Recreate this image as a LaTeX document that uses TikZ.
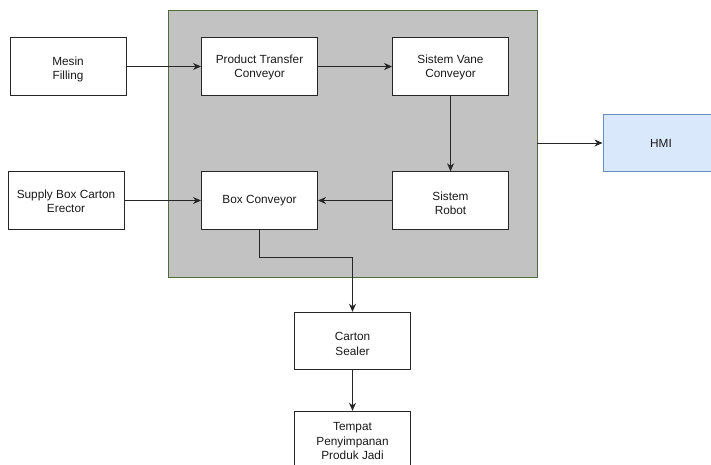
\documentclass[tikz,border=0pt]{standalone}
\usepackage{fontspec}
\setmainfont{Liberation Sans}
\usetikzlibrary{arrows.meta}
\definecolor{txt}{HTML}{1A1A1A}
\definecolor{edge}{HTML}{262626}
\definecolor{sysfill}{HTML}{C2C2C2}
\definecolor{sysline}{HTML}{4F6B3F}
\definecolor{hmifill}{HTML}{DAE8FC}
\definecolor{hmiline}{HTML}{6C8EBF}
\tikzset{
  blk/.style={draw=edge, line width=0.9pt, fill=white, rectangle,
    minimum width=116pt, minimum height=57.5pt, inner sep=2pt,
    align=center, text=txt, font=\fontsize{11.8}{14.3}\selectfont},
  twoline/.style={text height=25pt},
  lowtext/.style={text height=28.5pt},
  threeline/.style={text height=39pt},
  hmibox/.style={blk, draw=hmiline, fill=hmifill},
  arr/.style={draw=edge, line width=0.9pt, -{Stealth[length=8pt,width=7pt,inset=2.5pt]}},
}
\begin{document}
\begin{tikzpicture}[x=1pt, y=-1pt]
  \clip (0,0) rectangle (711,464);
  \fill[white] (0,0) rectangle (711,464);

  % packing system enclosure
  \node[draw=sysline, fill=sysfill, line width=0.9pt, rectangle,
        minimum width=369pt, minimum height=267pt, inner sep=0pt]
        (sys) at (352.5,143.5) {};

  % blocks
  \node[blk, lowtext] (mesin)   at (68,66.5)    {Mesin\\Filling};
  \node[blk, twoline] (ptc)     at (259.5,66.5) {Product Transfer\\Conveyor};
  \node[blk, twoline] (vane)    at (450.5,66.5) {Sistem Vane\\Conveyor};
  \node[blk, twoline] (supply)  at (66,200.5)   {Supply Box Carton\\Erector};
  \node[blk] (boxconv)          at (259.5,200.5){Box Conveyor};
  \node[blk, lowtext] (robot)   at (450.5,200.5){Sistem\\Robot};
  \node[hmibox] (hmi)           at (661,143)    {HMI};
  \node[blk, lowtext] (sealer)  at (352.5,341)  {Carton\\Sealer};
  \node[blk, threeline] (store) at (352.5,440)  {Tempat\\Penyimpanan\\Produk Jadi};

  % connectors
  \draw[arr] (mesin) -- (ptc);
  \draw[arr] (ptc) -- (vane);
  \draw[arr] (vane) -- (robot);
  \draw[arr] (robot) -- (boxconv);
  \draw[arr] (supply) -- (boxconv);
  \draw[arr] (sys.east |- hmi.west) -- (hmi.west);
  \draw[arr] (boxconv.south) -- ++(0,28) -| (sealer.north);
  \draw[arr] (sealer) -- (store);
\end{tikzpicture}
\end{document}
